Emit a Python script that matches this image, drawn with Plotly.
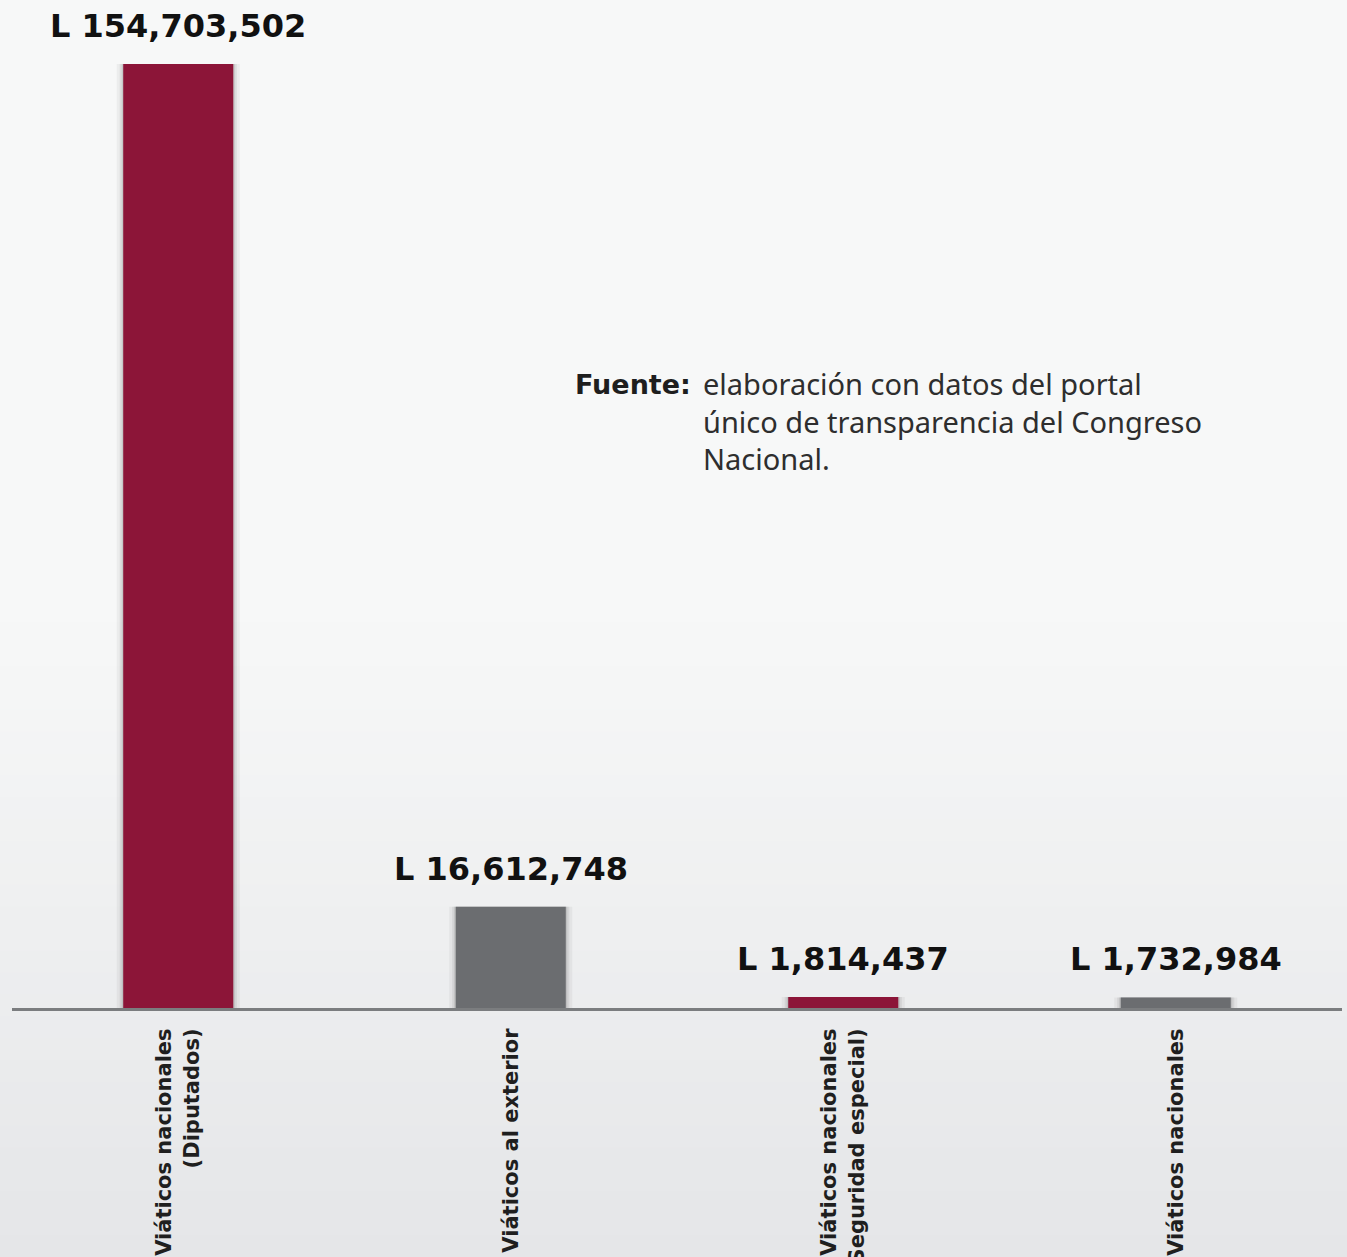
import plotly.graph_objects as go

# Gastos en viáticos del Congreso Nacional (Lempiras)
categories = ["Viáticos nacionales (Diputados)", "Viáticos al exterior",
              "Viáticos nacionales (Seguridad especial)", "Viáticos nacionales"]
tick_labels = ["<b>Viáticos nacionales</b><br><b>(Diputados)</b>", "<b>Viáticos al exterior</b>",
               "<b>Viáticos nacionales</b><br><b>(Seguridad especial)</b>", "<b>Viáticos nacionales</b>"]
values = [154703502, 16612748, 1814437, 1732984]
bar_colors = ["#8c1538", "#6b6d70", "#8c1538", "#6b6d70"]

W, H = 1347, 1257
M_L, M_R, M_T, M_B = 12, 5, 0, 249
PLOT_W = W - M_L - M_R
PLOT_H = H - M_T - M_B
Y_MAX = 165.2e6


def px_x(p):
    return (p - M_L) / PLOT_W


def px_y(p):
    return (H - M_B - p) / PLOT_H


fig = go.Figure()

# soft drop shadow behind each bar
for w, a in [(0.37, 0.05), (0.352, 0.08), (0.34, 0.12)]:
    fig.add_trace(go.Bar(
        x=categories, y=values, width=w,
        marker=dict(color=f"rgba(40,40,40,{a})", line=dict(width=0)),
        hoverinfo="skip", showlegend=False,
    ))

fig.add_trace(go.Bar(
    x=categories, y=values, width=0.331,
    marker=dict(color=bar_colors, line=dict(width=0)),
    showlegend=False,
))

annotations = []
for c, v in zip(categories, values):
    annotations.append(dict(
        x=c, y=v, xref="x", yref="y", text=f"<b>L {v:,}</b>",
        showarrow=False, yanchor="bottom", yshift=17,
        font=dict(family="DejaVu Sans", size=32, color="#111111"),
    ))

annotations.append(dict(
    x=px_x(573), y=px_y(367), xref="paper", yref="paper",
    xanchor="left", yanchor="top", showarrow=False,
    text="<b>Fuente:</b>",
    font=dict(family="DejaVu Sans", size=27, color="#1e1e1e"),
))
annotations.append(dict(
    x=px_x(701), y=px_y(362), xref="paper", yref="paper",
    xanchor="left", yanchor="top", showarrow=False, align="left",
    text="elaboración con datos del portal<br>único de transparencia del Congreso<br>Nacional.",
    font=dict(family="Noto Sans", size=29, color="#2e2e2e"),
))

# light paper background fading to gray towards the bottom
shapes = []
top_c = (247, 248, 248)
bot_c = (229, 230, 232)
y_start, y_end, n = 600, H, 30
for i in range(n):
    t = i / (n - 1)
    col = tuple(round(top_c[k] + (bot_c[k] - top_c[k]) * t) for k in range(3))
    y0 = y_start + (y_end - y_start) * i / n
    y1 = y_start + (y_end - y_start) * (i + 1) / n
    shapes.append(dict(
        type="rect", xref="paper", yref="paper",
        x0=-0.02, x1=1.02, y0=px_y(y1 + 1), y1=px_y(y0),
        fillcolor="rgb(%d,%d,%d)" % col, line=dict(width=0), layer="below",
    ))

fig.update_layout(
    width=W, height=H,
    margin=dict(l=M_L, r=M_R, t=M_T, b=M_B),
    paper_bgcolor="rgb(247,248,248)",
    plot_bgcolor="rgba(0,0,0,0)",
    barmode="overlay",
    annotations=annotations,
    shapes=shapes,
    xaxis=dict(
        range=[-0.5, 3.5], showgrid=False, zeroline=False,
        showline=True, linecolor="#7b7d7f", linewidth=3,
        tickmode="array", tickvals=categories, ticktext=tick_labels,
        tickangle=-90, ticklabelstandoff=9, automargin=False,
        tickfont=dict(family="DejaVu Sans", size=21, color="#1f1f1f"),
    ),
    yaxis=dict(range=[0, Y_MAX], visible=False, showgrid=False, zeroline=False),
)

fig.write_html("out.html")
